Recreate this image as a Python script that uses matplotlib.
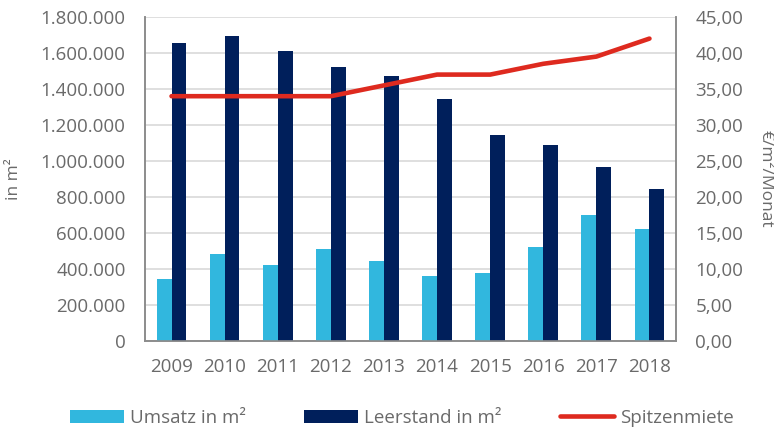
import matplotlib.pyplot as plt
import numpy as np
from matplotlib.ticker import FuncFormatter, MultipleLocator

plt.rcParams['font.family'] = ['Open Sans', 'DejaVu Sans']

# data
years = ['2009', '2010', '2011', '2012', '2013', '2014', '2015', '2016', '2017', '2018']
umsatz = [346000, 482000, 420000, 513000, 443000, 363000, 380000, 524000, 700000, 624000]
leerstand = [1654000, 1694000, 1613000, 1524000, 1470000, 1344000, 1144000, 1089000, 967000, 843000]
spitzenmiete = [34.0, 34.0, 34.0, 34.0, 35.5, 37.0, 37.0, 38.5, 39.5, 42.0]

c_light = '#31B7DE'
c_dark = '#001F5B'
c_red = '#DE2A1F'
c_text = '#6A6A6A'
c_axis = '#8C8C8C'

fig = plt.figure(figsize=(7.74, 4.29), dpi=100)
ax = fig.add_axes([0.1873, 0.2051, 0.6861, 0.7553])
ax2 = ax.twinx()

x = np.arange(len(years))
w = 0.28
b1 = ax.bar(x - w/2, umsatz, w, color=c_light, label='Umsatz in m²', zorder=3)
b2 = ax.bar(x + w/2, leerstand, w, color=c_dark, label='Leerstand in m²', zorder=3)
l1, = ax2.plot(x, spitzenmiete, color=c_red, lw=3.3, solid_capstyle='round',
               solid_joinstyle='round', label='Spitzenmiete', zorder=4)

ax.set_xlim(-0.5, len(years) - 0.5)
ax.set_ylim(0, 1800000)
ax2.set_ylim(0, 45)
ax.yaxis.set_major_locator(MultipleLocator(200000))
ax2.yaxis.set_major_locator(MultipleLocator(5))
ax.yaxis.set_major_formatter(FuncFormatter(lambda v, p: f'{v:,.0f}'.replace(',', '.')))
ax2.yaxis.set_major_formatter(FuncFormatter(lambda v, p: f'{v:.2f}'.replace('.', ',')))
ax.set_xticks(x)
ax.set_xticklabels(years)

ax.grid(axis='y', color='#D9D9D9', lw=1.2, zorder=0)
ax.set_axisbelow(True)

for a in (ax, ax2):
    a.tick_params(length=0, labelsize=13.5, colors=c_text)
    a.spines['top'].set_visible(False)
    for s in ('left', 'bottom', 'right'):
        a.spines[s].set_color(c_axis)
        a.spines[s].set_linewidth(1.2)
ax.tick_params(axis='y', pad=14)
ax.tick_params(axis='x', pad=12)
ax2.tick_params(axis='y', pad=14)

ax.set_ylabel('in m²', color=c_text, fontsize=12.5)
ax.yaxis.set_label_coords(-0.232, 0.5)
ax2.set_ylabel('€/m²/Monat', color=c_text, fontsize=12.5, rotation=270, va='center')
ax2.yaxis.set_label_coords(1.168, 0.5)

fig.legend(handles=[b1, b2, l1], loc='center', bbox_to_anchor=(0.519, 0.026),
           ncol=3, frameon=False, fontsize=13.5, labelcolor=c_text,
           handlelength=2.9, handleheight=0.7, handletextpad=0.3, columnspacing=3.1)

fig.savefig('out.png', dpi=100)
